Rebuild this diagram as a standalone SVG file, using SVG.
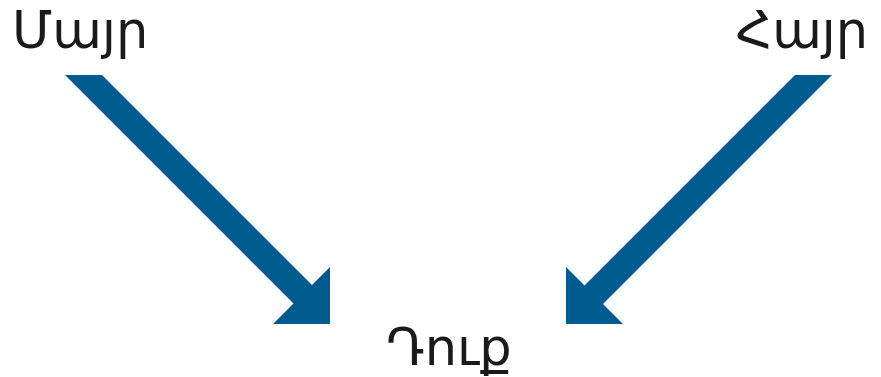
<svg xmlns="http://www.w3.org/2000/svg" width="881" height="377" viewBox="0 0 881 377">
<style>
.lbl{font-family:"DejaVu Sans","Noto Sans",sans-serif;font-size:51px;fill:#1a1a1a}
.arr{fill:#005b8e}
</style>
<rect width="881" height="377" fill="#fff"/>
<g id="mayr"><text class="lbl" x="12" y="48">Մայր</text></g>
<g id="hayr"><text class="lbl" x="868" y="48" text-anchor="end">Հայր</text></g>
<g id="duq"><text class="lbl" x="449" y="365" text-anchor="middle">Դուք</text></g>
<g id="connectors">
<polygon class="arr" points="65,75 102,75 312,285 330,267 330,324 273,324 293.5,303.5"/>
<polygon class="arr" points="832,75 795,75 584.5,285.5 566,267 566,324 623,324 603,304"/>
</g>
</svg>
